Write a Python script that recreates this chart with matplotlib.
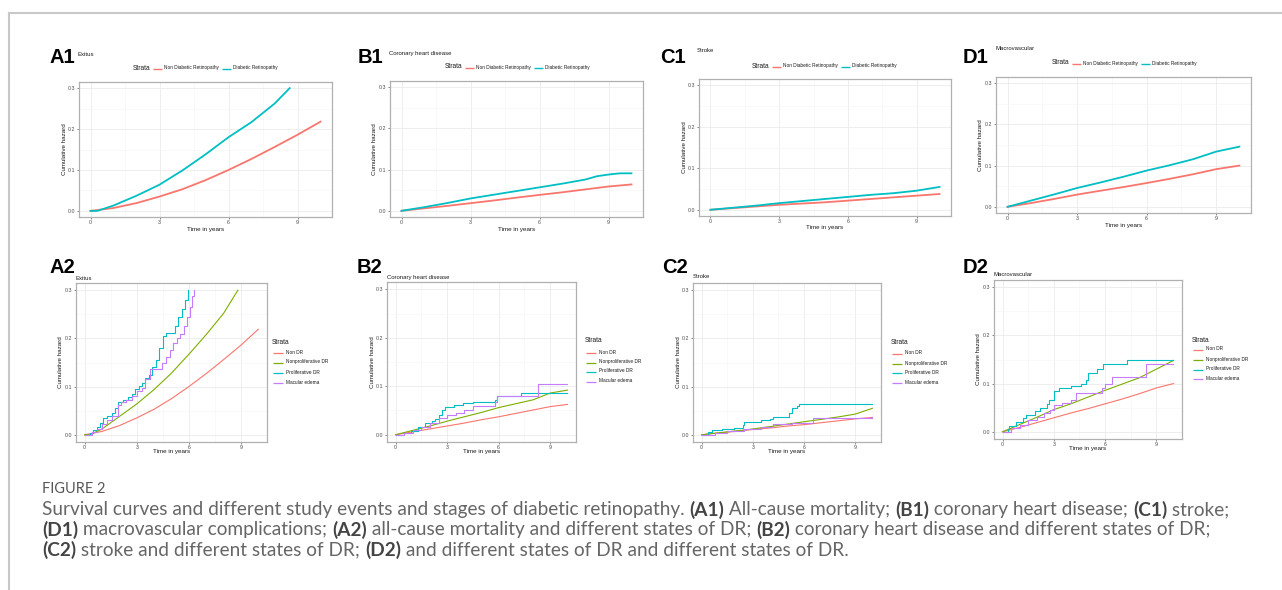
import matplotlib
matplotlib.use('Agg')
import matplotlib.pyplot as plt
from matplotlib.lines import Line2D

plt.rcParams['font.family'] = ['Liberation Sans', 'DejaVu Sans']

# ---------------- data ----------------
years = [0, 1, 2, 3, 4, 5, 6, 7, 8, 9, 10]
xtick_vals = [0, 3, 6, 9]
xtick_labels = ['0', '3', '6', '9']
ytick_vals = [0.0, 0.1, 0.2, 0.3]
ytick_labels = ['0.0', '0.1', '0.2', '0.3']

top_labels = ['Non Diabetic Retinopathy', 'Diabetic Retinopathy']
stage_labels = ['Non DR', 'Nonproliferative DR', 'Proliferative DR', 'Macular edema']
panel_titles = ['Exitus', 'Coronary heart disease', 'Stroke', 'Macrovascular']
row1_letters = ['A1', 'B1', 'C1', 'D1']
row2_letters = ['A2', 'B2', 'C2', 'D2']

# A1 / A2 : Exitus
a1_nondr = [0, 0.007, 0.019, 0.035, 0.053, 0.075, 0.100, 0.127, 0.156, 0.186, 0.218]
a1_dr_t = [0, 0.3, 1, 2, 3, 4, 5, 6, 7, 8, 8.66]
a1_dr = [0, 0, 0.013, 0.037, 0.064, 0.099, 0.138, 0.180, 0.217, 0.262, 0.300]

a2_nondr = [0, 0.007, 0.019, 0.035, 0.053, 0.075, 0.100, 0.127, 0.156, 0.186, 0.219]
a2_npdr_t = [0, 0.3, 1, 2, 3, 4, 5, 6, 7, 8, 8.82]
a2_npdr = [0, 0, 0.012, 0.038, 0.064, 0.094, 0.128, 0.167, 0.208, 0.252, 0.300]
a2_pdr_t = [0, 0.3, 0.5, 0.7, 0.9, 1.05, 1.3, 1.6, 1.75, 1.9, 2.2, 2.5, 2.7, 2.9, 3.1, 3.3,
            3.5, 3.7, 3.9, 4.1, 4.3, 4.5, 4.7, 5.0, 5.2, 5.4, 5.6, 5.8, 5.95]
a2_pdr = [0, 0.003, 0.010, 0.017, 0.025, 0.035, 0.040, 0.045, 0.055, 0.068, 0.072, 0.078,
          0.085, 0.095, 0.102, 0.108, 0.118, 0.125, 0.140, 0.155, 0.180, 0.205, 0.212, 0.212,
          0.225, 0.245, 0.262, 0.280, 0.300]
a2_me_t = [0, 0.4, 0.7, 1.0, 1.3, 1.6, 1.9, 2.1, 2.4, 2.7, 3.0, 3.3, 3.5, 3.75, 4.45, 4.7,
           4.9, 5.1, 5.3, 5.5, 5.7, 5.9, 6.05, 6.2, 6.32]
a2_me = [0, 0.005, 0.012, 0.022, 0.030, 0.040, 0.062, 0.068, 0.072, 0.080, 0.090, 0.098,
         0.115, 0.137, 0.150, 0.162, 0.175, 0.190, 0.200, 0.210, 0.225, 0.245, 0.265, 0.288, 0.300]

# B1 / B2 : Coronary heart disease
b1_nondr = [0, 0.006, 0.012, 0.0185, 0.025, 0.032, 0.0386, 0.045, 0.052, 0.059, 0.064]
b1_dr_t = [0, 1, 2, 3, 4, 5, 6, 7, 8, 8.5, 9, 9.5, 10]
b1_dr = [0, 0.009, 0.019, 0.030, 0.039, 0.048, 0.057, 0.066, 0.076, 0.084, 0.088, 0.091, 0.091]

b2_nondr = [0, 0.006, 0.012, 0.018, 0.024, 0.031, 0.037, 0.044, 0.051, 0.058, 0.0625]
b2_npdr = [0, 0.009, 0.018, 0.028, 0.037, 0.046, 0.056, 0.064, 0.072, 0.086, 0.092]
b2_pdr_t = [0, 0.5, 0.9, 1.3, 1.7, 2.1, 2.3, 2.5, 2.7, 2.9, 3.4, 3.9, 4.5, 5.8, 5.9, 7.3, 10]
b2_pdr = [0, 0.004, 0.008, 0.016, 0.025, 0.028, 0.032, 0.040, 0.050, 0.058, 0.062, 0.065,
          0.068, 0.072, 0.080, 0.087, 0.087]
b2_me_t = [0, 0.5, 1.0, 1.5, 2.0, 2.5, 3.0, 3.5, 4.0, 4.5, 5.8, 5.9, 8.3, 10]
b2_me = [0, 0.004, 0.010, 0.015, 0.025, 0.035, 0.040, 0.045, 0.050, 0.060, 0.068, 0.080,
         0.105, 0.105]

# C1 / C2 : Stroke
c1_nondr = [0, 0.004, 0.008, 0.012, 0.015, 0.018, 0.022, 0.026, 0.030, 0.034, 0.038]
c1_dr = [0, 0.005, 0.010, 0.016, 0.021, 0.026, 0.031, 0.036, 0.040, 0.046, 0.055]

c2_nondr = [0, 0.004, 0.007, 0.011, 0.014, 0.018, 0.021, 0.025, 0.029, 0.033, 0.036]
c2_npdr = [0, 0.004, 0.008, 0.012, 0.017, 0.022, 0.027, 0.032, 0.037, 0.043, 0.055]
c2_pdr_t = [0, 0.4, 0.6, 1.2, 1.9, 2.4, 2.5, 3.5, 4.0, 4.2, 5.0, 5.1, 5.3, 5.6, 5.7, 10]
c2_pdr = [0, 0.006, 0.010, 0.013, 0.015, 0.020, 0.027, 0.030, 0.032, 0.037, 0.037, 0.045,
          0.055, 0.060, 0.063, 0.063]
c2_me_t = [0, 0.8, 1.5, 2.5, 3.5, 4.2, 5.3, 6.5, 10]
c2_me = [0, 0.004, 0.008, 0.013, 0.017, 0.022, 0.025, 0.035, 0.036]

# D1 / D2 : Macrovascular
d1_nondr = [0, 0.009, 0.019, 0.0297, 0.039, 0.048, 0.0577, 0.068, 0.079, 0.0914, 0.100]
d1_dr = [0, 0.015, 0.030, 0.0457, 0.059, 0.073, 0.088, 0.101, 0.1155, 0.134, 0.146]

d2_nondr = [0, 0.009, 0.019, 0.029, 0.039, 0.048, 0.058, 0.068, 0.079, 0.091, 0.100]
d2_npdr = [0, 0.015, 0.030, 0.046, 0.058, 0.072, 0.086, 0.099, 0.112, 0.130, 0.148]
d2_pdr_t = [0, 0.3, 0.4, 0.8, 1.2, 1.4, 1.9, 2.2, 2.6, 2.7, 3.0, 3.3, 4.0, 4.6, 4.9, 5.0,
            5.5, 5.9, 7.3, 10]
d2_pdr = [0, 0.005, 0.012, 0.020, 0.028, 0.035, 0.043, 0.050, 0.058, 0.065, 0.085, 0.090,
          0.096, 0.100, 0.108, 0.122, 0.130, 0.140, 0.148, 0.148]
d2_me_t = [0, 0.5, 1.0, 1.5, 2.0, 2.4, 2.8, 3.0, 3.5, 4.0, 4.3, 5.6, 5.8, 6.0, 6.4, 8.3, 8.4, 10]
d2_me = [0, 0.008, 0.015, 0.025, 0.030, 0.040, 0.045, 0.055, 0.060, 0.065, 0.080, 0.080,
         0.090, 0.100, 0.113, 0.113, 0.140, 0.140]

caption_title = 'FIGURE 2'
caption_lines = [
    [('Survival curves and different study events and stages of diabetic retinopathy. ', False),
     ('(A1)', True), (' All-cause mortality; ', False), ('(B1)', True),
     (' coronary heart disease; ', False), ('(C1)', True), (' stroke;', False)],
    [('(D1)', True), (' macrovascular complications; ', False), ('(A2)', True),
     (' all-cause mortality and different states of DR; ', False), ('(B2)', True),
     (' coronary heart disease and different states of DR;', False)],
    [('(C2)', True), (' stroke and different states of DR; ', False), ('(D2)', True),
     (' and different states of DR and different states of DR.', False)],
]

# ---------------- styling ----------------
RED, OLIVE, TEAL, PURPLE = '#F8766D', '#7CAE00', '#00BFC4', '#C77CFF'
W, H = 1282, 590
fig = plt.figure(figsize=(W / 100, H / 100), dpi=100)
fig.patch.set_facecolor('white')


def fx(px):
    return px / W


def fy(py):
    return 1 - py / H


def make_ax(l, r, t, b, xlab_off):
    ax = fig.add_axes([fx(l), fy(b), (r - l) / W, (b - t) / H])
    ax.set_xlim(-0.5, 10.5)
    ax.set_ylim(-0.015, 0.315)
    ax.set_xticks(xtick_vals)
    ax.set_xticklabels(xtick_labels)
    ax.set_yticks(ytick_vals)
    ax.set_yticklabels(ytick_labels)
    ax.set_xticks([1.5, 4.5, 7.5], minor=True)
    ax.set_yticks([0.05, 0.15, 0.25], minor=True)
    ax.grid(which='major', color='#EBEBEB', lw=0.6)
    ax.grid(which='minor', color='#F5F5F5', lw=0.4)
    ax.set_axisbelow(True)
    ax.tick_params(which='minor', length=0)
    ax.tick_params(which='major', length=1.5, width=0.5, color='#555555',
                   labelsize=3.8, labelcolor='#4D4D4D', pad=1)
    for s in ax.spines.values():
        s.set_color('#B0B0B0')
        s.set_linewidth(0.9)
    ax.set_xlabel('Time in years', fontsize=4.5, color='#1A1A1A')
    ax.set_ylabel('Cumulative hazard', fontsize=4.5, color='#1A1A1A')
    ax.xaxis.set_label_coords(0.5, -xlab_off / (b - t))
    ax.yaxis.set_label_coords(-12.5 / (r - l), 0.5)
    return ax


def key_line(x0, x1, yc, col, lw):
    yc = round(yc) + 0.5
    fig.add_artist(Line2D([fx(x0), fx(x1)], [fy(yc), fy(yc)], color=col, lw=lw,
                          solid_capstyle='butt'))


def top_legend(x0, yc):
    fig.text(fx(x0), fy(yc), 'Strata', fontsize=4.8, va='center', ha='left', color='#1A1A1A')
    for k, (col, lab) in enumerate(zip([RED, TEAL], top_labels)):
        kx = x0 + 20 + k * 69
        key_line(kx, kx + 9, yc, col, 1.0)
        fig.text(fx(kx + 11), fy(yc), lab, fontsize=3.4, va='center', ha='left', color='#1A1A1A')


def right_legend(x0, ys, yrows):
    fig.text(fx(x0), fy(ys), 'Strata', fontsize=4.8, va='center', ha='left', color='#1A1A1A')
    for col, lab, yc in zip([RED, OLIVE, TEAL, PURPLE], stage_labels, yrows):
        key_line(x0 + 1, x0 + 11, yc, col, 0.9)
        fig.text(fx(x0 + 14), fy(yc), lab, fontsize=3.4, va='center', ha='left', color='#1A1A1A')


LW1, LW2 = 1.3, 0.8

# ---- row 1 ----
row1_boxes = [(79, 332, 82, 217), (390, 643, 81, 217), (699, 951, 79, 216), (996, 1251, 77, 213)]
row1_letter_pos = [(50, 63), (358, 63), (660, 63), (963, 63)]
row1_title_pos = [(78, 54), (389, 53), (697, 51), (996, 49)]
row1_leg = [(133, 68), (445, 67), (752, 66), (1052, 63)]

row1_series = [
    (years, a1_nondr, a1_dr_t, a1_dr),
    (years, b1_nondr, b1_dr_t, b1_dr),
    (years, c1_nondr, years, c1_dr),
    (years, d1_nondr, years, d1_dr),
]

for i in range(4):
    ax = make_ax(*row1_boxes[i], xlab_off=9.5)
    tn, yn, td, yd = row1_series[i]
    ax.plot(tn, yn, color=RED, lw=LW1)
    ax.plot(td, yd, color=TEAL, lw=LW1)
    lx, ly = row1_letter_pos[i]
    fig.text(fx(lx), fy(ly), row1_letters[i], fontsize=14.5, fontweight='bold',
             va='baseline', ha='left', color='black')
    tx, ty = row1_title_pos[i]
    fig.text(fx(tx), fy(ty), panel_titles[i], fontsize=4.3, va='center', ha='left', color='#1A1A1A')
    top_legend(*row1_leg[i])

# ---- row 2 ----
row2_boxes = [(76, 267, 283, 442), (387, 576, 282, 442), (693, 881, 283, 442), (994, 1182, 280, 439)]
row2_letter_pos = [(50, 273), (357, 273), (662, 273), (963, 273)]
row2_title_pos = [(76, 278), (387, 277), (693, 277), (994, 275)]
row2_leg = [(272, 342, [352, 362, 372, 382]),
            (585, 341, [352, 362, 371, 381]),
            (891, 343, [353, 363, 372, 382]),
            (1192, 340, [349, 359, 369, 378])]

row2_series = [
    (years, a2_nondr, a2_npdr_t, a2_npdr, a2_pdr_t, a2_pdr, a2_me_t, a2_me),
    (years, b2_nondr, years, b2_npdr, b2_pdr_t, b2_pdr, b2_me_t, b2_me),
    (years, c2_nondr, years, c2_npdr, c2_pdr_t, c2_pdr, c2_me_t, c2_me),
    (years, d2_nondr, years, d2_npdr, d2_pdr_t, d2_pdr, d2_me_t, d2_me),
]

for i in range(4):
    ax = make_ax(*row2_boxes[i], xlab_off=7)
    t0, y0, t1, y1, t2, y2, t3, y3 = row2_series[i]
    ax.plot(t0, y0, color=RED, lw=LW2)
    ax.plot(t1, y1, color=OLIVE, lw=LW2)
    ax.step(t2, y2, where='post', color=TEAL, lw=LW2)
    ax.step(t3, y3, where='post', color=PURPLE, lw=LW2)
    lx, ly = row2_letter_pos[i]
    fig.text(fx(lx), fy(ly), row2_letters[i], fontsize=14.5, fontweight='bold',
             va='baseline', ha='left', color='black')
    tx, ty = row2_title_pos[i]
    fig.text(fx(tx), fy(ty), panel_titles[i], fontsize=4.3, va='center', ha='left', color='#1A1A1A')
    right_legend(*row2_leg[i])

# ---- frame ----
fig.add_artist(Line2D([fx(9), 1.0], [fy(13), fy(13)], color='#C8C8C8', lw=1.5))
fig.add_artist(Line2D([fx(9), fx(9)], [fy(13), 0.0], color='#C8C8C8', lw=1.5))

# ---- caption ----
renderer = fig.canvas.get_renderer()
CAP_FONT = ['Lato', 'Open Sans', 'DejaVu Sans']
NORMAL_W = 'normal'


def text_w(s, size, bold):
    wt = 'bold' if bold else NORMAL_W
    t1 = fig.text(0, 0, '|' + s + '|', fontsize=size, family=CAP_FONT, fontweight=wt)
    t2 = fig.text(0, 0, '||', fontsize=size, family=CAP_FONT, fontweight=wt)
    w = t1.get_window_extent(renderer).width - t2.get_window_extent(renderer).width
    t1.remove()
    t2.remove()
    return w


base = 12.0
w0 = sum(text_w(s, base, b) for s, b in caption_lines[0])
cap_size = base * (1186.0 / w0)

tw = text_w(caption_title, 11, False)
title_size = 11 * 63.0 / tw
fig.text(fx(42), fy(489), caption_title, fontsize=title_size, family=CAP_FONT,
         fontweight='normal', color='#555555', va='center', ha='left')

line_y = [510, 530, 550]
for line, yc in zip(caption_lines, line_y):
    x = 42.0
    for s, b in line:
        fig.text(fx(x), fy(yc), s, fontsize=cap_size, family=CAP_FONT,
                 fontweight='bold' if b else NORMAL_W,
                 color='#444444' if b else '#666666', va='center', ha='left')
        x += text_w(s, cap_size, b)

fig.savefig('out.png', dpi=100, facecolor='white')
